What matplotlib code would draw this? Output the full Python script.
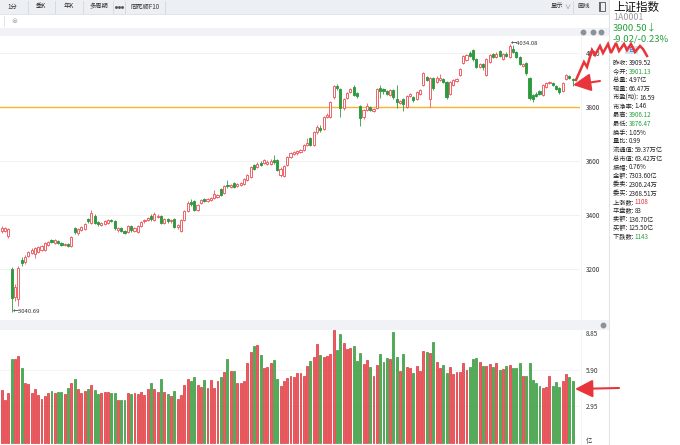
import matplotlib
matplotlib.use('Agg')
import matplotlib.pyplot as plt
from matplotlib.patches import Rectangle

plt.rcParams['font.family'] = ['Noto Sans CJK SC', 'DejaVu Sans']

# daily candles (index points, 173 sessions)
opens = [3340, 3342, 3322, 3200, 3098, 3090, 3232, 3224, 3248, 3260,
         3255, 3264, 3270, 3272, 3290, 3308, 3298, 3304, 3296, 3288,
         3292, 3286, 3352, 3332, 3345, 3348, 3384, 3372, 3398, 3374,
         3364, 3366, 3372, 3382, 3376, 3344, 3350, 3342, 3336, 3358,
         3342, 3338, 3360, 3376, 3382, 3398, 3382, 3392, 3396, 3370,
         3386, 3376, 3384, 3354, 3340, 3382, 3414, 3448, 3452, 3420,
         3444, 3458, 3452, 3456, 3462, 3466, 3496, 3480, 3512, 3504,
         3518, 3506, 3512, 3514, 3530, 3540, 3586, 3578, 3594, 3592,
         3588, 3588, 3604, 3604, 3548, 3545, 3586, 3614, 3626, 3628,
         3632, 3641, 3660, 3685, 3660, 3706, 3722, 3720, 3762, 3764,
         3836, 3878, 3868, 3796, 3834, 3856, 3874, 3852, 3804, 3762,
         3790, 3800, 3784, 3798, 3872, 3866, 3860, 3846, 3864, 3830,
         3816, 3828, 3800, 3840, 3838, 3830, 3850, 3880, 3910, 3830,
         3906, 3892, 3900, 3904, 3892, 3848, 3880, 3896, 3920, 3962,
         3974, 4000, 4010, 3976, 3950, 3960, 3920, 3968, 3996, 3986,
         4006, 3978, 3998, 3985, 4014, 4004, 3986, 3952, 3962, 3906,
         3844, 3850, 3858, 3846, 3874, 3888, 3890, 3876, 3870, 3860,
         3904, 3914, 3901.13]
closes = [3352, 3350, 3348, 3092, 3132, 3205, 3222, 3244, 3262, 3272,
          3276, 3280, 3284, 3296, 3300, 3300, 3306, 3296, 3290, 3294,
          3284, 3318, 3336, 3348, 3356, 3368, 3378, 3408, 3372, 3366,
          3370, 3376, 3382, 3378, 3350, 3352, 3340, 3334, 3360, 3344,
          3352, 3360, 3374, 3382, 3390, 3384, 3404, 3398, 3372, 3384,
          3378, 3382, 3356, 3362, 3380, 3414, 3446, 3440, 3420, 3438,
          3454, 3452, 3460, 3462, 3478, 3474, 3474, 3506, 3506, 3512,
          3504, 3514, 3520, 3532, 3548, 3578, 3572, 3588, 3586, 3602,
          3596, 3600, 3596, 3568, 3572, 3582, 3614, 3630, 3634, 3636,
          3640, 3659, 3668, 3660, 3706, 3726, 3716, 3762, 3770, 3818,
          3876, 3870, 3796, 3830, 3852, 3866, 3846, 3840, 3760, 3790,
          3804, 3790, 3794, 3866, 3860, 3858, 3850, 3862, 3836, 3818,
          3822, 3812, 3842, 3848, 3826, 3856, 3862, 3926, 3900, 3906,
          3870, 3906, 3908, 3894, 3836, 3894, 3900, 3904, 3942, 3990,
          3992, 3990, 3976, 3950, 3958, 3948, 3976, 3992, 3986, 3998,
          3988, 3996, 3990, 4026, 4004, 3986, 3960, 3958, 3926, 3834,
          3830, 3842, 3850, 3880, 3888, 3894, 3880, 3866, 3856, 3890,
          3918, 3908, 3900.50]
highs = [3358, 3356, 3352, 3206, 3145, 3212, 3244, 3250, 3268, 3276,
         3280, 3284, 3288, 3300, 3305, 3312, 3310, 3308, 3300, 3298,
         3296, 3322, 3356, 3352, 3360, 3372, 3388, 3418, 3402, 3378,
         3374, 3380, 3386, 3386, 3380, 3356, 3354, 3346, 3364, 3362,
         3356, 3364, 3378, 3386, 3394, 3402, 3412, 3402, 3400, 3388,
         3390, 3386, 3388, 3366, 3384, 3418, 3450, 3460, 3456, 3442,
         3458, 3462, 3464, 3466, 3494, 3478, 3500, 3510, 3530, 3516,
         3522, 3518, 3524, 3536, 3552, 3582, 3590, 3596, 3600, 3606,
         3604, 3608, 3624, 3608, 3576, 3586, 3618, 3634, 3638, 3640,
         3646, 3663, 3684, 3690, 3710, 3732, 3732, 3766, 3776, 3822,
         3880, 3886, 3872, 3834, 3856, 3870, 3880, 3856, 3808, 3794,
         3816, 3804, 3798, 3870, 3880, 3870, 3864, 3866, 3868, 3880,
         3826, 3832, 3846, 3852, 3842, 3860, 3866, 3930, 3914, 3910,
         3910, 3916, 3922, 3908, 3896, 3898, 3904, 3908, 3946, 3994,
         3996, 4006, 4014, 3980, 3962, 3964, 3980, 3996, 4000, 4004,
         4010, 4000, 4004, 4034.08, 4030, 4008, 3990, 3962, 3966, 3910,
         3848, 3854, 3862, 3884, 3892, 3898, 3894, 3880, 3874, 3894,
         3922, 3918, 3906.12]
lows = [3335, 3338, 3316, 3040.69, 3080, 3062, 3212, 3218, 3244, 3255,
        3240, 3258, 3266, 3268, 3286, 3296, 3294, 3292, 3286, 3284,
        3280, 3282, 3330, 3326, 3340, 3344, 3372, 3368, 3366, 3360,
        3360, 3362, 3368, 3374, 3346, 3338, 3336, 3330, 3332, 3338,
        3338, 3334, 3356, 3372, 3378, 3378, 3378, 3388, 3368, 3366,
        3372, 3372, 3350, 3348, 3336, 3378, 3410, 3432, 3416, 3416,
        3440, 3448, 3448, 3452, 3458, 3462, 3470, 3476, 3500, 3500,
        3500, 3502, 3508, 3510, 3526, 3536, 3566, 3574, 3582, 3588,
        3584, 3584, 3590, 3562, 3542, 3540, 3582, 3610, 3622, 3624,
        3628, 3636, 3656, 3655, 3655, 3700, 3708, 3716, 3758, 3760,
        3830, 3862, 3762, 3790, 3830, 3852, 3840, 3832, 3728, 3754,
        3786, 3784, 3780, 3794, 3834, 3850, 3844, 3842, 3830, 3796,
        3812, 3784, 3796, 3836, 3820, 3826, 3846, 3876, 3896, 3800,
        3864, 3888, 3896, 3890, 3830, 3844, 3876, 3892, 3916, 3958,
        3970, 3984, 3970, 3944, 3946, 3936, 3916, 3964, 3982, 3982,
        3984, 3974, 3986, 3980, 4000, 3980, 3956, 3948, 3920, 3826,
        3820, 3838, 3846, 3842, 3870, 3884, 3876, 3862, 3850, 3856,
        3900, 3904, 3876.47]
# turnover per session, in 亿
volumes = [4.27, 3.47, 4.06, 6.75, 6.75, 7.02, 6.02, 4.81, 4.76, 4.01,
           4.33, 3.87, 3.55, 3.79, 4.06, 4.17, 4.01, 4.14, 4.14, 3.95,
           4.41, 4.81, 5.13, 4.33, 4.06, 4.22, 4.33, 4.68, 4.27, 3.95,
           4.06, 4.09, 4.14, 4.01, 4.06, 3.47, 3.44, 3.44, 4.01, 3.92,
           4.01, 3.95, 4.14, 3.87, 4.35, 4.87, 4.33, 4.14, 5.13, 4.11,
           3.95, 3.79, 4.22, 3.52, 3.84, 4.65, 5.13, 5.00, 5.30, 4.65,
           4.49, 5.05, 4.44, 5.05, 4.41, 5.00, 5.35, 5.75, 6.75, 5.81,
           5.81, 4.81, 4.81, 5.00, 6.48, 7.31, 7.82, 7.93, 7.10, 6.02,
           6.16, 6.48, 6.67, 5.13, 4.62, 5.03, 5.22, 5.40, 5.35, 5.62,
           5.62, 5.43, 6.24, 6.61, 6.91, 7.96, 7.10, 6.91, 7.04, 7.15,
           9.09, 7.50, 8.79, 8.09, 7.55, 7.63, 7.82, 6.61, 7.23, 6.37,
           6.69, 6.10, 5.43, 6.29, 7.15, 6.56, 6.83, 6.77, 8.95, 6.96,
           5.81, 7.18, 6.10, 6.02, 5.62, 6.21, 5.81, 7.42, 7.31, 7.23,
           8.17, 6.56, 6.02, 6.29, 5.62, 6.10, 5.56, 5.75, 5.75, 6.48,
           5.89, 6.16, 6.80, 6.88, 6.51, 6.24, 6.24, 6.40, 6.16, 6.42,
           5.89, 5.97, 6.21, 6.29, 6.02, 6.02, 6.42, 5.40, 5.40, 6.42,
           5.08, 4.87, 4.60, 4.46, 4.54, 5.43, 4.60, 4.92, 4.49, 5.03,
           5.54, 5.30, 4.97]

price_ticks = [3200, 3400, 3600, 3800, 4000]
vol_ticks = [0.25, 2.95, 5.90, 8.85]
vol_tick_labels = ['亿', '2.95', '5.90', '8.85']
tabs = ['1分', '季K', '年K', '多周期', '同花顺F10']

UP, DOWN = '#ec5a60', '#2e9a3e'
DARK, GREEN, RED = '#222222', '#26a03c', '#e0323a'
info_rows = [('昨收: ', '3909.52', DARK), ('今开: ', '3901.13', GREEN),
             ('总量: ', '4.97亿', DARK), ('现量: ', '66.47万', DARK),
             ('市盈(动): ', '16.59', DARK), ('市净率: ', '1.46', DARK),
             ('最高: ', '3906.12', GREEN), ('最低: ', '3876.47', GREEN),
             ('换手: ', '1.05%', DARK), ('量比: ', '0.99', DARK),
             ('流通值: ', '59.37万亿', DARK), ('总市值: ', '63.42万亿', DARK),
             ('振幅: ', '0.76%', DARK), ('金额: ', '7303.60亿', DARK),
             ('委卖: ', '2306.24万', DARK), ('委买: ', '2368.51万', DARK),
             ('上涨数: ', '1108', RED), ('平盘数: ', '83', DARK),
             ('卖额: ', '136.70亿', DARK), ('买额: ', '125.50亿', DARK),
             ('下跌数: ', '1143', GREEN)]

W, H = 680, 445
fig = plt.figure(figsize=(6.8, 4.45), dpi=100)


def px_axes(x0, y0, w, h, z=1):
    return fig.add_axes([x0 / W, 1 - (y0 + h) / H, w / W, h / H], zorder=z)


# ---- window chrome ----
bg = px_axes(0, 0, W, H, z=0)
bg.set_xlim(0, W)
bg.set_ylim(H, 0)
bg.axis('off')
bg.add_patch(Rectangle((0, 0), 609, 14, color='#eceff3', lw=0))
bg.plot([0, 609], [14, 14], color='#dcdfe3', lw=0.6)
bg.add_patch(Rectangle((0, 28), 609, 8, color='#f0f2f5', lw=0))
bg.add_patch(Rectangle((0, 320), 609, 10, color='#f0f2f5', lw=0))
bg.plot([609, 609], [0, H], color='#e2e4e8', lw=0.8)
bg.plot([581, 581], [36, 320], color='#f2f2f2', lw=0.5)
bg.plot([581, 581], [330, H], color='#f2f2f2', lw=0.5)

tab_x = [12.5, 41, 69, 98.5, 145]
seps = [28, 55, 83, 113, 125, 165]
for t, x in zip(tabs, tab_x):
    bg.text(x, 6.5, t, fontsize=4.5, color='#333', ha='center', va='center')
bg.plot([115.5, 118.5, 121.5], [7, 7, 7], 'o', ms=1.1, color='#555')
for s in seps:
    bg.plot([s, s], [1, 13], color='#d3d6da', lw=0.6)
bg.text(557, 6.5, '显示', fontsize=4.5, color='#333', ha='center', va='center')
bg.text(567.5, 6.5, '∨', fontsize=4.4, color='#777', ha='center', va='center')
bg.plot([573, 573], [1, 13], color='#d3d6da', lw=0.6)
bg.text(584, 6.5, '画线', fontsize=4.5, color='#333', ha='center', va='center')
bg.add_patch(Rectangle((599, 2), 6, 9, fill=False, ec='#666', lw=0.7))
bg.add_patch(Rectangle((599, 2), 2, 9, color='#666', lw=0))
bg.plot([4, 4], [16, 26], color='#e0e0e0', lw=0.6)
bg.text(14, 21, '⊜', fontsize=5, color='#999', ha='center', va='center')
bg.plot([583, 593, 601], [32, 32, 32], 'o', ms=3.2, color='#8c9097')
bg.plot([603], [325], 'o', ms=3.2, color='#8c9097')

# ---- info panel ----
bg.text(613, 7, '上证指数', fontsize=8.3, color='#111', va='center')
bg.text(613, 17.5, '1A0001', fontsize=6.4, color='#9a9a9a', va='center')
bg.text(613, 28, '3900.50↓', fontsize=6.8, color=GREEN, va='center')
bg.text(613, 39, '-9.02/-0.23%', fontsize=6.8, color=GREEN, va='center')
bg.add_patch(Rectangle((625, 46), 13, 8, color='#cfe2f7', lw=0))
bg.text(631.5, 50, '日', fontsize=4.2, color='#3a78c2', ha='center', va='center')
for k, (lab, val, col) in enumerate(info_rows):
    y = 63 + 8.7 * k
    t = bg.text(613, y, lab, fontsize=4.5, color=DARK, va='center')
    bg.annotate(val, xy=(1, 0.5), xycoords=t, fontsize=4.5, color=col,
                va='center', ha='left')

# ---- price panel ----
n = len(closes)
idx = range(n)
up = [c >= o for o, c in zip(opens, closes)]
colors = [UP if u else DOWN for u in up]

ax = px_axes(0, 36, 580, 284, z=2)
ax.set_facecolor('none')
ax.set_xlim(-0.51, 174.2)
ax.set_ylim(3011, 4063)
for p in price_ticks:
    if p == 3800:
        ax.axhline(p, color='#f7b42c', lw=1.0, zorder=1)
    else:
        ax.axhline(p, color='#efefef', lw=0.6, zorder=0)
ax.vlines(idx, lows, highs, colors=colors, lw=0.6, zorder=2)
bottoms = [min(o, c) for o, c in zip(opens, closes)]
heights = [max(abs(c - o), 1.5) for o, c in zip(opens, closes)]
faces = ['white' if u else DOWN for u in up]
ax.bar(idx, heights, bottom=bottoms, width=0.64, color=faces,
       edgecolor=colors, linewidth=0.65, zorder=3)
ax.text(153.5, 4034.08, '←4034.08', fontsize=4.3, color='#333', va='center')
ax.text(3.3, 3040.69, '←3040.69', fontsize=4.3, color='#333', va='center')
ax.set_xticks([])
ax.yaxis.tick_right()
ax.set_yticks(price_ticks)
ax.tick_params(axis='y', length=0, pad=4, labelsize=4.6, labelcolor='#333')
for s in ax.spines.values():
    s.set_visible(False)

# ---- volume panel ----
vx = px_axes(0, 330, 580, 115, z=2)
vx.set_facecolor('none')
vx.set_xlim(-0.51, 174.2)
vx.set_ylim(-0.16, 9.11)
vx.axhline(5.90, color='#f2f2f2', lw=0.6, zorder=0)
vx.axhline(2.95, color='#f2f2f2', lw=0.6, zorder=0)
vfaces = ['#ee5a5f' if u else '#4caf50' for u in up]
vedges = ['#d9262e' if u else '#2e8b34' for u in up]
vx.bar(idx, volumes, width=0.58, color=vfaces, edgecolor=vedges,
       linewidth=0.45, zorder=3)
vx.set_xticks([])
vx.yaxis.tick_right()
vx.set_yticks(vol_ticks)
vx.set_yticklabels(vol_tick_labels)
vx.tick_params(axis='y', length=0, pad=4, labelsize=4.6, labelcolor='#333')
for s in vx.spines.values():
    s.set_visible(False)

# ---- red hand-drawn marks on top ----
ov = px_axes(0, 0, W, H, z=10)
ov.set_xlim(0, W)
ov.set_ylim(H, 0)
ov.axis('off')
zig_x = [576, 584, 587, 592, 595, 600, 603, 608, 611, 616, 619, 624, 627,
         631, 635, 640, 643, 647]
zig_y = [80, 62, 67, 50, 55, 46, 53, 44, 53, 43, 51, 44, 50, 44, 52, 46,
         49, 56]
ov.plot(zig_x, zig_y, color='#e8353b', lw=1.8, solid_joinstyle='miter')
arrow = dict(arrowstyle='-|>,head_length=0.9,head_width=0.45',
             color='#e8353b', lw=1.5, shrinkA=0, shrinkB=0, mutation_scale=12)
ov.annotate('', xy=(573, 85), xytext=(600, 81), arrowprops=arrow)
ov.annotate('', xy=(575, 389), xytext=(619, 388), arrowprops=arrow)

fig.savefig('out.png', dpi=100)
